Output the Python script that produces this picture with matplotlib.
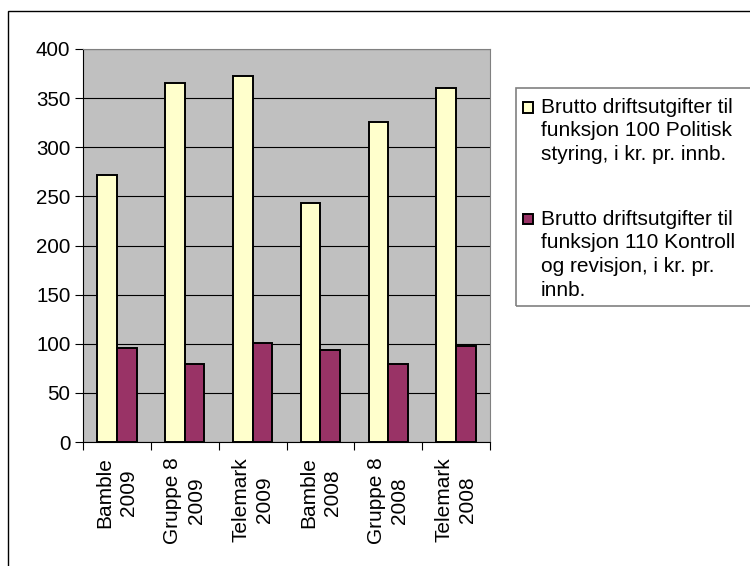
import matplotlib
matplotlib.use("Agg")
import matplotlib.pyplot as plt
from matplotlib.patches import Rectangle
import numpy as np

plt.rcParams['font.family'] = ['Liberation Sans', 'DejaVu Sans']

categories = ["Bamble\n2009", "Gruppe 8\n2009", "Telemark\n2009",
              "Bamble\n2008", "Gruppe 8\n2008", "Telemark\n2008"]
politisk = [272, 365, 373, 243, 326, 360]
kontroll = [96, 79, 101, 94, 79, 98]
labels = ["Brutto driftsutgifter til\nfunksjon 100 Politisk\nstyring, i kr. pr. innb.",
          "Brutto driftsutgifter til\nfunksjon 110 Kontroll\nog revisjon, i kr. pr.\ninnb."]
colors = ['#FFFFCC', '#993366']

W, H = 750, 566
fig = plt.figure(figsize=(7.5, 5.66), dpi=100)
fig.patch.set_facecolor('white')

# outer chart border (runs off the right and bottom edge)
fig.add_artist(Rectangle((8 / W, -0.1), 1.2, 1 - 11 / H + 0.1, transform=fig.transFigure,
                         fill=False, edgecolor='black', linewidth=1.0))

ax = fig.add_axes([83 / W, 1 - 442 / H, (490 - 83) / W, (442 - 49) / H])
ax.set_facecolor('#C0C0C0')

x = np.arange(len(categories))
bw = 0.29
ax.bar(x - bw / 2, politisk, bw, color=colors[0], edgecolor='black', linewidth=1.4, zorder=3)
ax.bar(x + bw / 2, kontroll, bw, color=colors[1], edgecolor='black', linewidth=1.4, zorder=3)

ax.set_xlim(-0.5, len(categories) - 0.5)
ax.set_ylim(0, 400)
ax.set_yticks(range(0, 401, 50))
ax.yaxis.grid(True, color='black', linewidth=0.8, zorder=1)
ax.set_axisbelow(True)

ax.set_xticks(np.arange(-0.5, len(categories), 1))
ax.set_xticklabels([])
ax.set_xticks(x, minor=True)
ax.set_xticklabels(categories, minor=True, rotation=90, ha='center', va='top',
                   multialignment='center', fontsize=15, linespacing=1.3)
ax.tick_params(axis='x', which='minor', length=0, pad=11)
ax.tick_params(axis='x', which='major', length=6, direction='out', width=0.8)
ax.tick_params(axis='y', length=6, width=0.8, pad=3, labelsize=14.8)

for s in ['top', 'right']:
    ax.spines[s].set_color('#808080')
for s in ['left', 'bottom']:
    ax.spines[s].set_color('black')

# legend box (runs off the right edge)
fig.add_artist(Rectangle((516 / W, 1 - 306 / H), 0.4, (306 - 88) / H, transform=fig.transFigure,
                         fill=False, edgecolor='#808080', linewidth=1.2))
baselines = [113, 225]
for lab, col, base in zip(labels, colors, baselines):
    fig.add_artist(Rectangle((523 / W, 1 - (base - 0.5) / H), 10 / W, 10 / H,
                             transform=fig.transFigure, facecolor=col,
                             edgecolor='black', linewidth=1.4))
    fig.text(541 / W, 1 - (base - 15) / H, lab, ha='left', va='top', fontsize=15,
             linespacing=1.3)

fig.savefig('out.png', dpi=100)
